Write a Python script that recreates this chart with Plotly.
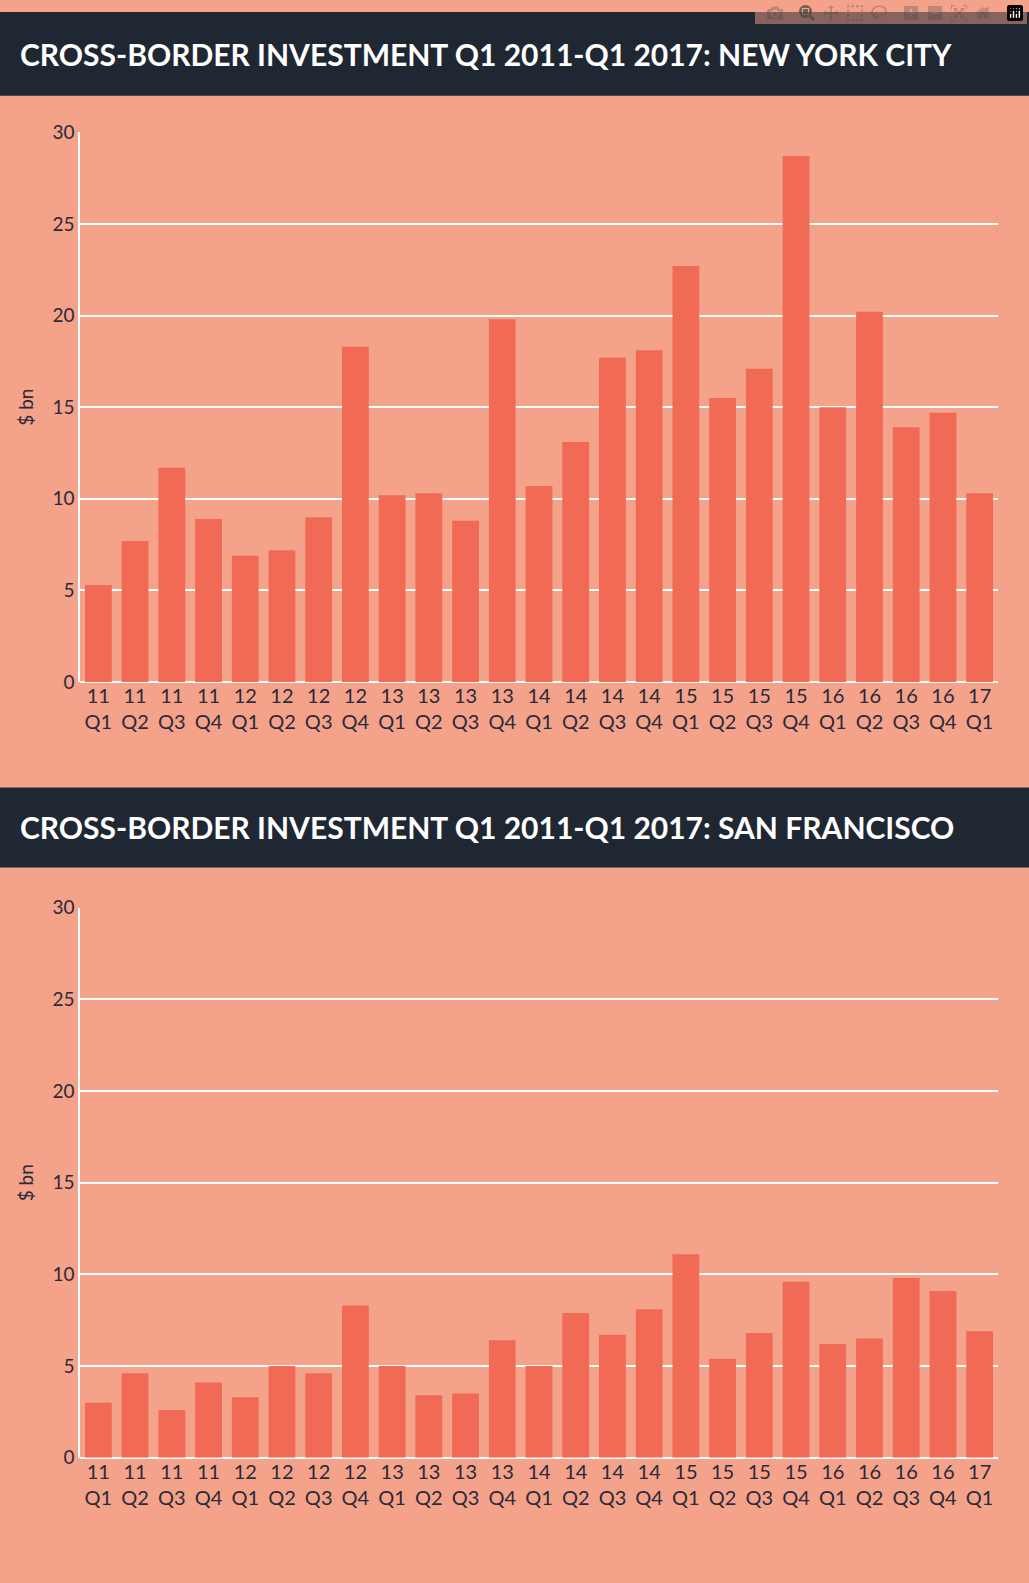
import plotly.graph_objects as go

quarters = ["11<br>Q1","11<br>Q2","11<br>Q3","11<br>Q4","12<br>Q1","12<br>Q2","12<br>Q3","12<br>Q4",
            "13<br>Q1","13<br>Q2","13<br>Q3","13<br>Q4","14<br>Q1","14<br>Q2","14<br>Q3","14<br>Q4",
            "15<br>Q1","15<br>Q2","15<br>Q3","15<br>Q4","16<br>Q1","16<br>Q2","16<br>Q3","16<br>Q4","17<br>Q1"]
nyc = [5.3,7.7,11.7,8.9,6.9,7.2,9.0,18.3,10.2,10.3,8.8,19.8,10.7,13.1,17.7,18.1,22.7,15.5,17.1,28.7,15.0,20.2,13.9,14.7,10.3]
sf = [3.0,4.6,2.6,4.1,3.3,5.0,4.6,8.3,5.0,3.4,3.5,6.4,5.0,7.9,6.7,8.1,11.1,5.4,6.8,9.6,6.2,6.5,9.8,9.1,6.9]
titles = ["CROSS-BORDER INVESTMENT Q1 2011-Q1 2017: NEW YORK CITY",
          "CROSS-BORDER INVESTMENT Q1 2011-Q1 2017: SAN FRANCISCO"]

W, H = 1029, 1583
BG = "#f4a28a"; BAR = "#f06a55"; DARK = "#1f2733"; TXT = "#2a2a3a"
FONT = "Lato"

fig = go.Figure()
fig.add_trace(go.Bar(x=quarters, y=nyc, marker_color=BAR, marker_line_width=0, xaxis="x", yaxis="y"))
fig.add_trace(go.Bar(x=quarters, y=sf, marker_color=BAR, marker_line_width=0, xaxis="x2", yaxis="y2"))

xd = [80/W, 998/W]
def yd(top, bot):
    return [1-bot/H, 1-top/H]
ax = dict(showgrid=False, tickfont=dict(family=FONT, size=20, color=TXT), showline=False, ticks="")
ay = dict(range=[0, 30], dtick=5, showgrid=True, gridcolor="white", gridwidth=1.5,
          zeroline=True, zerolinecolor="white", zerolinewidth=1.5,
          showline=True, linecolor="white", linewidth=1.5,
          tickfont=dict(family=FONT, size=19, color=TXT), ticks="",
          title=dict(text="$ bn", font=dict(family=FONT, size=19, color=TXT), standoff=14))
fig.update_layout(
    width=W, height=H, margin=dict(l=0, r=0, t=0, b=0),
    paper_bgcolor=BG, plot_bgcolor=BG, showlegend=False, bargap=0.27,
    xaxis=dict(domain=xd, anchor="y", **ax),
    yaxis=dict(domain=yd(122, 680), anchor="x", **ay),
    xaxis2=dict(domain=xd, anchor="y2", **ax),
    yaxis2=dict(domain=yd(909, 1467), anchor="x2", **ay),
    font=dict(family=FONT),
)
for (t, b), txt in zip([(0, 85), (787, 868)], titles):
    fig.add_shape(type="rect", xref="paper", yref="paper", x0=0, x1=1, y0=1-b/H, y1=1-t/H,
                  fillcolor=DARK, line_width=0, layer="below")
    fig.add_annotation(xref="paper", yref="paper", x=18/W, y=1-(t+b)/2/H, xanchor="left", yanchor="middle",
                       text="<b>"+txt+"</b>", showarrow=False,
                       font=dict(family=FONT, size=30, color="white"))
fig.write_html("out.html", post_script="document.body.style.margin='0';document.body.style.padding='0';")
